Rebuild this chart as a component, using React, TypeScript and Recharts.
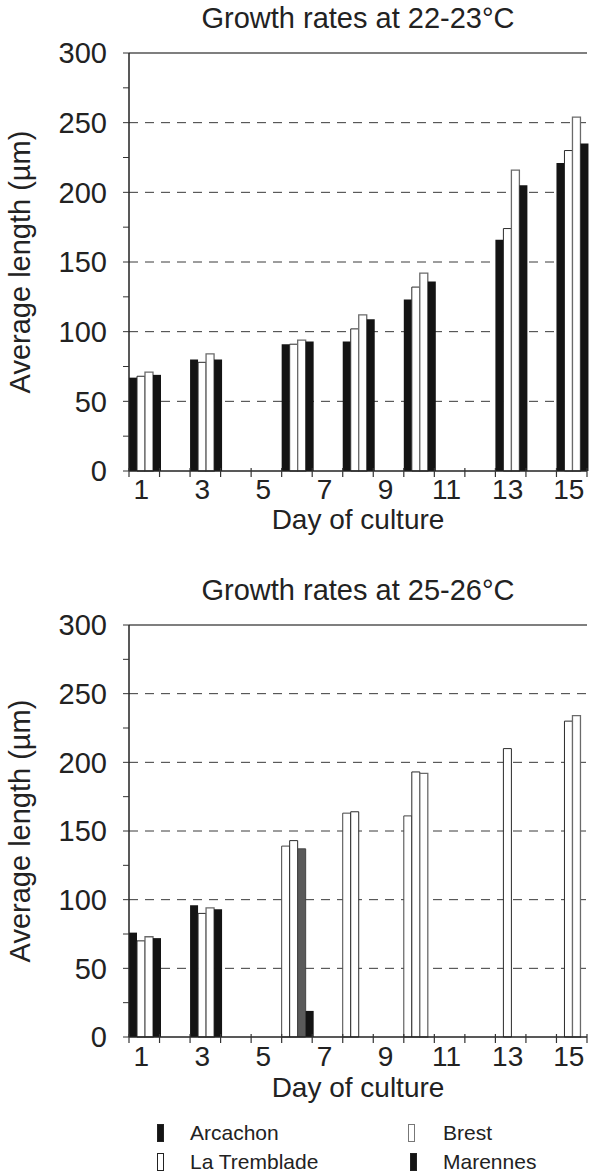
import React from 'react';
import { BarChart, Bar, XAxis, YAxis, CartesianGrid, ReferenceLine, Cell } from 'recharts';

// days of culture (category axis), labels only on odd days
const days = [1, 2, 3, 4, 5, 6, 7, 8, 9, 10, 11, 12, 13, 14, 15];
const yTicks = [0, 25, 50, 75, 100, 125, 150, 175, 200, 225, 250, 275, 300];
const gridValues = [50, 100, 150, 200, 250];

// average length (µm) at 22-23°C
const arcachon22 = [67, null, 80, null, null, 91, null, 93, null, 123, null, null, 166, null, 221];
const tremblade22 = [68, null, 78, null, null, 91, null, 102, null, 132, null, null, 174, null, 230];
const brest22 = [71, null, 84, null, null, 94, null, 112, null, 142, null, null, 216, null, 254];
const marennes22 = [69, null, 80, null, null, 93, null, 109, null, 136, null, null, 205, null, 235];

// average length (µm) at 25-26°C
const arcachon25 = [76, null, 96, null, null, 139, null, 163, null, 161, null, null, null, null, null];
const tremblade25 = [70, null, 90, null, null, 143, null, 164, null, 193, null, null, 210, null, 230];
const brest25 = [73, null, 94, null, null, 137, null, null, null, 192, null, null, null, null, 234];
const marennes25 = [72, null, 93, null, null, 19, null, null, null, null, null, null, null, null, null];

const series = [
  { key: 'arcachon', name: 'Arcachon', fill: '#141414', stroke: '#141414', strokeWidth: 0 },
  { key: 'tremblade', name: 'La Tremblade', fill: '#ffffff', stroke: '#2a2a2a', strokeWidth: 1 },
  { key: 'brest', name: 'Brest', fill: '#ffffff', stroke: '#6a6a6a', strokeWidth: 1.3 },
  { key: 'marennes', name: 'Marennes', fill: '#141414', stroke: '#141414', strokeWidth: 0 },
];

const FONT = '"Liberation Sans", Arial, sans-serif';
const W = 594;

function buildRows(a: any[], t: any[], b: any[], m: any[]) {
  return days.map((day, i) => ({ day, arcachon: a[i], tremblade: t[i], brest: b[i], marennes: m[i] }));
}

const rows22 = buildRows(arcachon22, tremblade22, brest22, marennes22);
const rows25 = buildRows(arcachon25, tremblade25, brest25, marennes25);

// the scan shows some bars of the 25-26°C panel with other fills
const fills25: Record<string, Record<number, string>> = {
  arcachon: { 6: '#ffffff', 8: '#ffffff', 10: '#ffffff' },
  brest: { 6: '#5a5a5a' },
};

function AxisTitle(props: any) {
  const { viewBox, text, axis, dx = 0, dy = 0 } = props;
  if (!viewBox) return null;
  if (axis === 'y') {
    const cx = viewBox.x + dx;
    const cy = viewBox.y + viewBox.height / 2;
    return (
      <text x={cx} y={cy} transform={`rotate(-90 ${cx} ${cy})`} textAnchor="middle" fontSize={29} fill="#222" fontFamily={FONT}>
        {text}
      </text>
    );
  }
  return (
    <text x={viewBox.x + viewBox.width / 2} y={viewBox.y + dy} textAnchor="middle" fontSize={28} fill="#222" fontFamily={FONT}>
      {text}
    </text>
  );
}

// tick marks sit on the day boundaries, labels in the middle of odd days
function DayTick(props: any) {
  const { x, y, payload, index, gap, count } = props;
  const half = payload?.offset || 458 / count / 2;
  const day = Number(payload.value);
  return (
    <g>
      <line x1={x - half} x2={x - half} y1={y - 3} y2={y + 6} stroke="#333" strokeWidth={1.2} />
      {index === count - 1 && <line x1={x + half} x2={x + half} y1={y - 3} y2={y + 6} stroke="#333" strokeWidth={1.2} />}
      {day % 2 === 1 && (
        <text x={x - 3} y={y + gap} dy="0.71em" textAnchor="middle" fontSize={28} fill="#222" fontFamily={FONT}>
          {day}
        </text>
      )}
    </g>
  );
}

function GrowthChart({ rows, height, plotTop, plotBottom, tickGap, xLabelDy, fills }: any) {
  return (
    <BarChart
      width={W}
      height={height}
      data={rows}
      margin={{ top: plotTop, right: 7, bottom: 0, left: 0 }}
      barCategoryGap={0}
      barGap={0}
    >
      <CartesianGrid vertical={false} horizontalValues={gridValues} stroke="#3a3a3a" strokeDasharray="9 7" />
      <XAxis
        dataKey="day"
        interval={0}
        tickLine={false}
        tickSize={0}
        tickMargin={0}
        height={height - plotBottom}
        axisLine={{ stroke: '#222', strokeWidth: 1.5 }}
        tick={<DayTick gap={tickGap} count={rows.length} />}
        label={<AxisTitle axis="x" text="Day of culture" dy={xLabelDy} />}
      />
      <YAxis
        domain={[0, 300]}
        ticks={yTicks}
        interval={0}
        width={129}
        tickSize={6}
        tickMargin={16}
        axisLine={{ stroke: '#222', strokeWidth: 1.5 }}
        tickLine={{ stroke: '#333' }}
        tick={{ fontSize: 29, fill: '#222', fontFamily: FONT }}
        tickFormatter={(v: number) => (v % 50 === 0 ? String(v) : '')}
        label={<AxisTitle axis="y" text="Average length (µm)" dx={30} />}
      />
      <ReferenceLine y={300} stroke="#555" strokeWidth={1.5} />
      {series.map((s) => (
        <Bar
          key={s.key}
          dataKey={s.key}
          name={s.name}
          fill={s.fill}
          stroke={s.stroke}
          strokeWidth={s.strokeWidth}
          isAnimationActive={false}
        >
          {rows.map((r: any) => {
            const f = fills?.[s.key]?.[r.day];
            return (
              <Cell
                key={r.day}
                fill={f ?? s.fill}
                stroke={f ? '#444' : s.stroke}
                strokeWidth={f ? 1 : s.strokeWidth}
              />
            );
          })}
        </Bar>
      ))}
    </BarChart>
  );
}

function Title({ text, top }: { text: string; top: number }) {
  return (
    <div
      style={{
        position: 'absolute',
        top,
        left: 129,
        width: 458,
        textAlign: 'center',
        fontSize: 29,
        lineHeight: '29px',
        color: '#222',
        whiteSpace: 'nowrap',
      }}
    >
      {text}
    </div>
  );
}

function Legend() {
  const spots = [
    { left: 157, top: 1124, textLeft: 190 },
    { left: 157, top: 1153, textLeft: 190 },
    { left: 408, top: 1124, textLeft: 443 },
    { left: 410, top: 1153, textLeft: 443 },
  ];
  return (
    <>
      {series.map((s, i) => (
        <React.Fragment key={s.key}>
          <div
            style={{
              position: 'absolute',
              left: spots[i].left,
              top: spots[i].top,
              width: 7,
              height: 18,
              boxSizing: 'border-box',
              background: s.fill,
              border: `1px solid ${s.key === 'brest' ? '#777' : '#222'}`,
            }}
          />
          <div
            style={{
              position: 'absolute',
              left: spots[i].textLeft,
              top: spots[i].top - 3,
              fontSize: 21,
              lineHeight: '24px',
              color: '#222',
            }}
          >
            {s.name}
          </div>
        </React.Fragment>
      ))}
    </>
  );
}

export default function App() {
  return (
    <div
      style={{
        position: 'absolute',
        left: 0,
        top: 0,
        width: W,
        height: 1173,
        background: '#fff',
        fontFamily: FONT,
        overflow: 'hidden',
      }}
    >
      <Title text="Growth rates at 22-23°C" top={4} />
      <div style={{ position: 'absolute', left: 0, top: 0 }}>
        <GrowthChart rows={rows22} height={540} plotTop={53} plotBottom={471} tickGap={8} xLabelDy={58} />
      </div>
      <Title text="Growth rates at 25-26°C" top={576} />
      <div style={{ position: 'absolute', left: 0, top: 560 }}>
        <GrowthChart rows={rows25} height={560} plotTop={65} plotBottom={477} tickGap={9} xLabelDy={60} fills={fills25} />
      </div>
      <Legend />
    </div>
  );
}
